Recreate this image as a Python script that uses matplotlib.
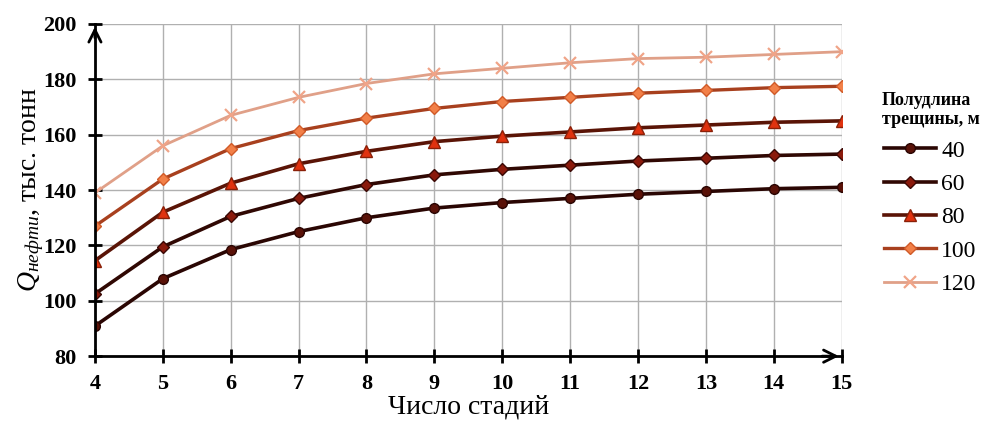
import numpy as np
import matplotlib.pyplot as plt

plt.rcParams['font.family'] = ['Liberation Serif', 'DejaVu Serif']
plt.rcParams['mathtext.fontset'] = 'custom'
plt.rcParams['mathtext.rm'] = 'Liberation Serif'
plt.rcParams['mathtext.it'] = 'Liberation Serif:italic'

# Число стадий
stages = [4, 5, 6, 7, 8, 9, 10, 11, 12, 13, 14, 15]

# Накопленная добыча нефти, тыс. тонн, по полудлине трещины
q_40 = [90.9, 108, 118.5, 125, 130, 133.5, 135.5, 137, 138.5, 139.5, 140.5, 141]
q_60 = [102.5, 119.5, 130.5, 137, 142, 145.5, 147.5, 149, 150.5, 151.5, 152.5, 153]
q_80 = [114.5, 132, 142.5, 149.5, 154, 157.5, 159.5, 161, 162.5, 163.5, 164.5, 165]
q_100 = [127, 144, 155, 161.5, 166, 169.5, 172, 173.5, 175, 176, 177, 177.5]
q_120 = [139, 156, 167, 173.5, 178.5, 182, 184, 186, 187.5, 188, 189, 190]

labels = ["40", "60", "80", "100", "120"]
series = [q_40, q_60, q_80, q_100, q_120]

styles = [
    dict(color="#2a0603", marker="o", mfc="#5a1208", mec="#2a0502", ms=7, lw=2.6),
    dict(color="#300803", marker="D", mfc="#8a1a0c", mec="#3a0804", ms=6, lw=2.6),
    dict(color="#5a1406", marker="^", mfc="#e0320f", mec="#8a2008", ms=8, lw=2.6),
    dict(color="#a8401e", marker="D", mfc="#f28048", mec="#d05a28", ms=6, lw=2.4),
    dict(color="#e0a088", marker="x", mfc="#f0a080", mec="#f0a488", ms=9, lw=2.0, mew=1.6),
]

fig = plt.figure(figsize=(9.89, 4.21), dpi=100)
ax = fig.add_axes([0.096, 0.154, 0.755, 0.789])

for q, lab, st in zip(series, labels, styles):
    ax.plot(stages, q, label=lab, **st)

ax.set_xlim(4, 15)
ax.set_ylim(80, 200)
ax.set_xticks(stages)
ax.set_yticks(np.arange(80, 201, 20))
ax.grid(color="#b0b0b0", lw=1.0)
ax.set_axisbelow(True)

for s in ["top", "right"]:
    ax.spines[s].set_visible(False)
for s in ["left", "bottom"]:
    ax.spines[s].set_linewidth(2)
    ax.spines[s].set_color("black")

ax.tick_params(direction="inout", length=10, width=2, labelsize=16, pad=8)
for t in ax.get_xticklabels() + ax.get_yticklabels():
    t.set_fontweight("bold")

# стрелки осей
ax.annotate("", xy=(1.0, 0), xytext=(0.97, 0), xycoords="axes fraction",
            arrowprops=dict(arrowstyle="->", lw=2, color="black", mutation_scale=22))
ax.annotate("", xy=(0, 1.0), xytext=(0, 0.95), xycoords="axes fraction",
            arrowprops=dict(arrowstyle="->", lw=2, color="black", mutation_scale=22))

ax.set_xlabel("Число стадий", fontsize=20, labelpad=0)
ax.set_ylabel(r"$Q_{нефти}$, тыс. тонн", fontsize=20, labelpad=-2)

leg = ax.legend(title="Полудлина\nтрещины, м", loc="center left",
                bbox_to_anchor=(1.025, 0.49), frameon=False, fontsize=17,
                title_fontproperties={"weight": "bold", "size": 13},
                handlelength=2.2, labelspacing=0.5, handletextpad=0.2)
leg._legend_box.align = "center"

fig.savefig("out.png", dpi=100)
